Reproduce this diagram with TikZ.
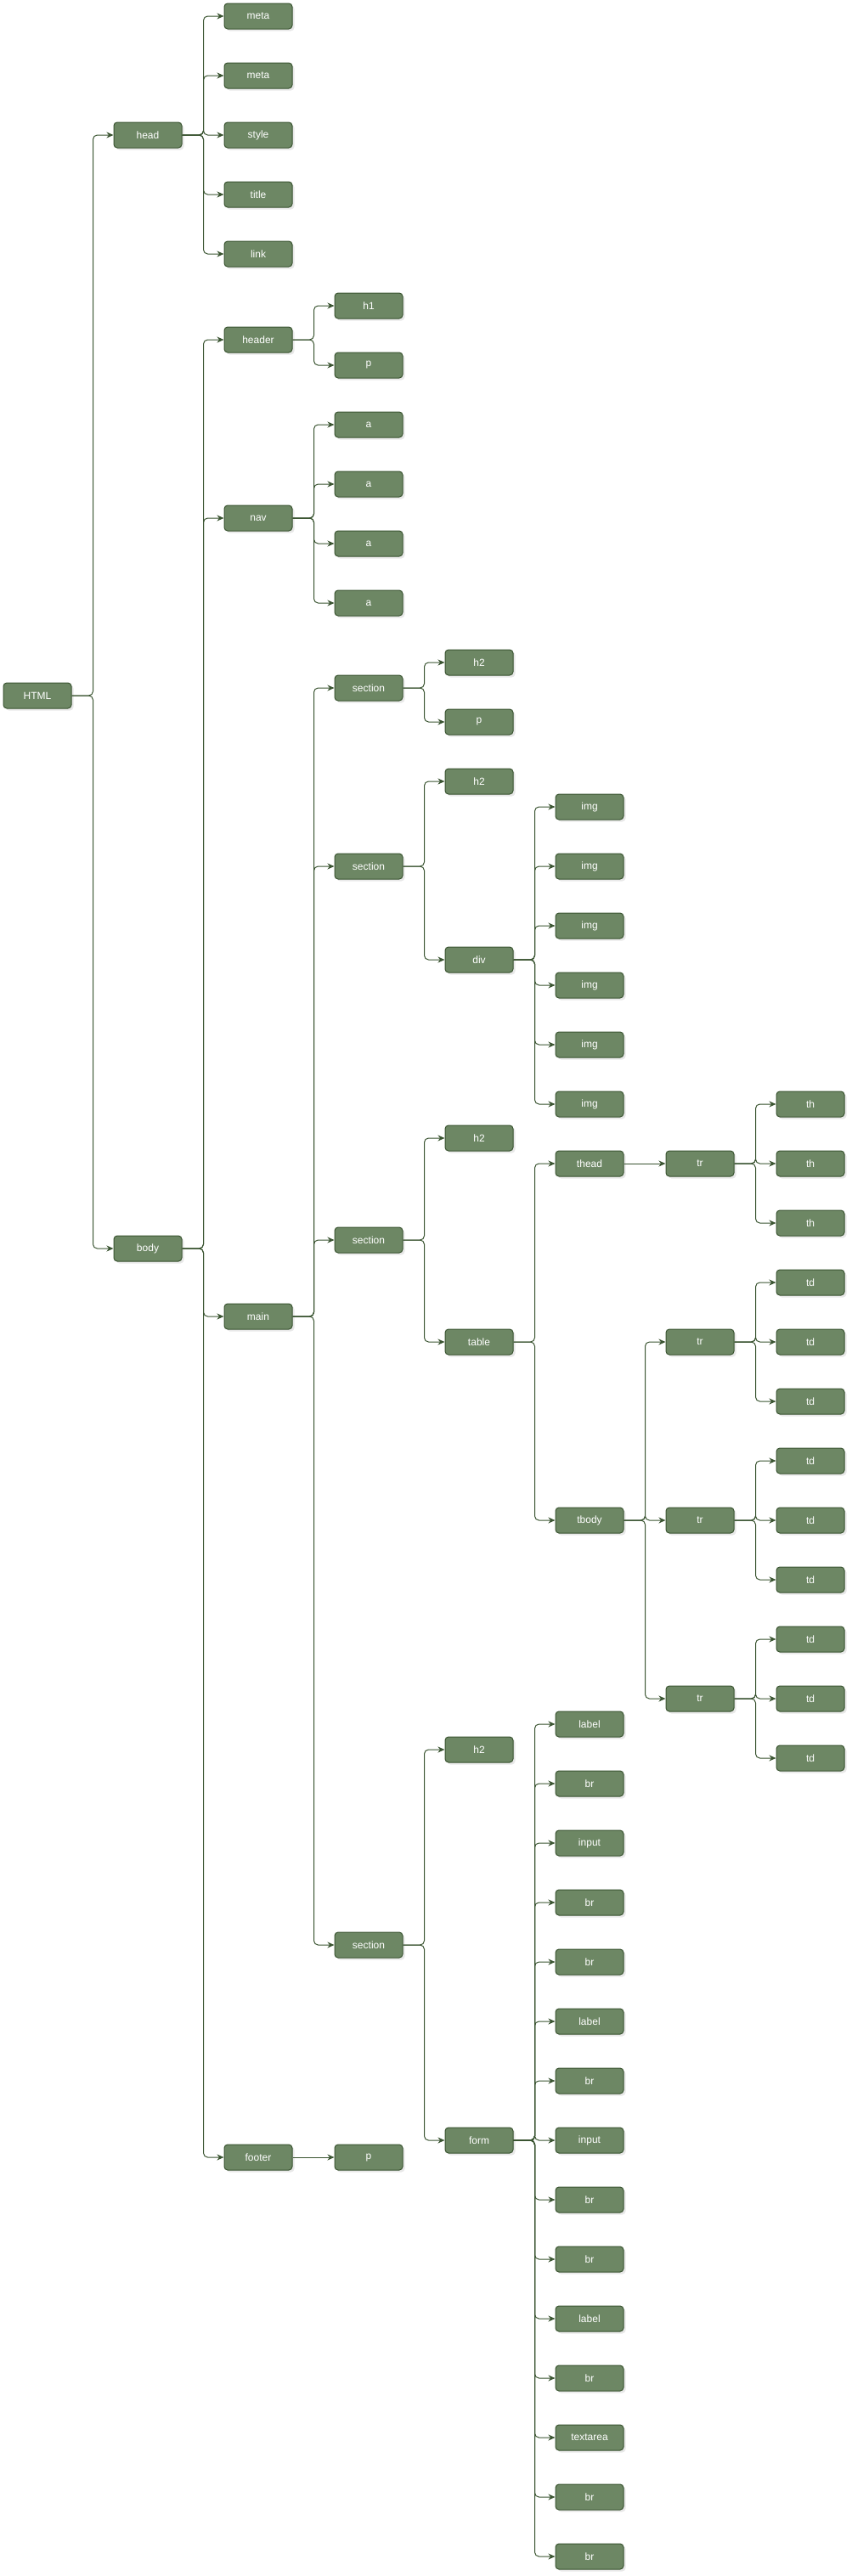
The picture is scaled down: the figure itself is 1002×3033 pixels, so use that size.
\documentclass[tikz,border=0pt]{standalone}
\usepackage{fontspec}
\setsansfont{Liberation Sans}
\usetikzlibrary{arrows.meta,shadows}

\definecolor{nodefill}{HTML}{6D8764}
\definecolor{nodeline}{HTML}{3A5431}

\tikzset{
	elem/.style={draw=nodeline, fill=nodefill, line width=1pt, rounded corners=4pt,
		minimum width=80pt, minimum height=30pt, inner sep=0pt, text=white,
		font=\sffamily\fontsize{12}{14}\selectfont,
		drop shadow={opacity=0.18, shadow xshift=2.5pt, shadow yshift=-2.5pt}},
	branch/.style={draw=nodeline, line width=1pt, rounded corners=5pt,
		-{Stealth[length=8pt,width=7pt,inset=2.5pt]}}
}

\begin{document}
\begin{tikzpicture}[x=1pt,y=-1pt]
			\useasboundingbox (0,0) rectangle (1002,3033);
			
			% Root and first level
			\node[elem] (html) at (44,819) {HTML};
			\node[elem] (head) at (174,159) {head};
			\node[elem] (body) at (174,1470) {body};
			
			% Head
			\node[elem] (meta1) at (304,19) {meta};
			\node[elem] (meta2) at (304,89) {meta};
			\node[elem] (style) at (304,159) {style};
			\node[elem] (title) at (304,229) {title};
			\node[elem] (link) at (304,299) {link};
			
			% Body
			\node[elem] (header) at (304,400) {header};
			\node[elem] (nav) at (304,610) {nav};
			\node[elem] (main) at (304,1550) {main};
			\node[elem] (footer) at (304,2540) {footer};
			
			% Header and nav
			\node[elem] (h1) at (434,360) {h1};
			\node[elem] (hp) at (434,430) {p};
			\foreach \y [count=\i] in {500,570,640,710}
			\node[elem] (a\i) at (434,\y) {a};
			
			% Sections of main
			\node[elem] (sec1) at (434,810) {section};
			\node[elem] (sec2) at (434,1020) {section};
			\node[elem] (sec3) at (434,1460) {section};
			\node[elem] (sec4) at (434,2290) {section};
			\node[elem] (fp) at (434,2540) {p};
			
			\node[elem] (s1h2) at (564,780) {h2};
			\node[elem] (s1p) at (564,850) {p};
			\node[elem] (s2h2) at (564,920) {h2};
			\node[elem] (div) at (564,1130) {div};
			\node[elem] (s3h2) at (564,1340) {h2};
			\node[elem] (table) at (564,1580) {table};
			\node[elem] (s4h2) at (564,2060) {h2};
			\node[elem] (form) at (564,2520) {form};
			
			% Images
			\foreach \y [count=\i] in {950,1020,1090,1160,1230,1300}
			\node[elem] (img\i) at (694,\y) {img};
			
			% Table
			\node[elem] (thead) at (694,1370) {thead};
			\node[elem] (tbody) at (694,1790) {tbody};
			\node[elem] (trh) at (824,1370) {tr};
			\node[elem] (tr1) at (824,1580) {tr};
			\node[elem] (tr2) at (824,1790) {tr};
			\node[elem] (tr3) at (824,2000) {tr};
			\foreach \y [count=\i] in {1300,1370,1440}
			\node[elem] (th\i) at (954,\y) {th};
			\foreach \y [count=\i] in {1510,1580,1650,1720,1790,1860,1930,2000,2070}
			\node[elem] (td\i) at (954,\y) {td};
			
			% Form
			\foreach \t [count=\i] in {label,br,input,br,br,label,br,input,br,br,label,br,textarea,br,br}
			\node[elem] (fc\i) at (694,{1960+70*\i}) {\t};
			
			% Connectors
			\foreach \c in {head,body}
			\draw[branch] (html.east) -- ++(25,0) |- (\c.west);
			\foreach \c in {meta1,meta2,style,title,link}
			\draw[branch] (head.east) -- ++(25,0) |- (\c.west);
			\foreach \c in {header,nav,main,footer}
			\draw[branch] (body.east) -- ++(25,0) |- (\c.west);
			\foreach \c in {h1,hp}
			\draw[branch] (header.east) -- ++(25,0) |- (\c.west);
			\foreach \c in {a1,a2,a3,a4}
			\draw[branch] (nav.east) -- ++(25,0) |- (\c.west);
			\foreach \c in {sec1,sec2,sec3,sec4}
			\draw[branch] (main.east) -- ++(25,0) |- (\c.west);
			\draw[branch] (footer) -- (fp);
			\foreach \c in {s1h2,s1p}
			\draw[branch] (sec1.east) -- ++(25,0) |- (\c.west);
			\foreach \c in {s2h2,div}
			\draw[branch] (sec2.east) -- ++(25,0) |- (\c.west);
			\foreach \c in {s3h2,table}
			\draw[branch] (sec3.east) -- ++(25,0) |- (\c.west);
			\foreach \c in {s4h2,form}
			\draw[branch] (sec4.east) -- ++(25,0) |- (\c.west);
			\foreach \i in {1,...,6}
			\draw[branch] (div.east) -- ++(25,0) |- (img\i.west);
			\foreach \c in {thead,tbody}
			\draw[branch] (table.east) -- ++(25,0) |- (\c.west);
			\draw[branch] (thead) -- (trh);
			\foreach \c in {tr1,tr2,tr3}
			\draw[branch] (tbody.east) -- ++(25,0) |- (\c.west);
			\foreach \i in {1,2,3}
			\draw[branch] (trh.east) -- ++(25,0) |- (th\i.west);
			\foreach \i in {1,2,3}
			\draw[branch] (tr1.east) -- ++(25,0) |- (td\i.west);
			\foreach \i in {4,5,6}
			\draw[branch] (tr2.east) -- ++(25,0) |- (td\i.west);
			\foreach \i in {7,8,9}
			\draw[branch] (tr3.east) -- ++(25,0) |- (td\i.west);
			\foreach \i in {1,...,15}
			\draw[branch] (form.east) -- ++(25,0) |- (fc\i.west);
		\end{tikzpicture}
\end{document}
